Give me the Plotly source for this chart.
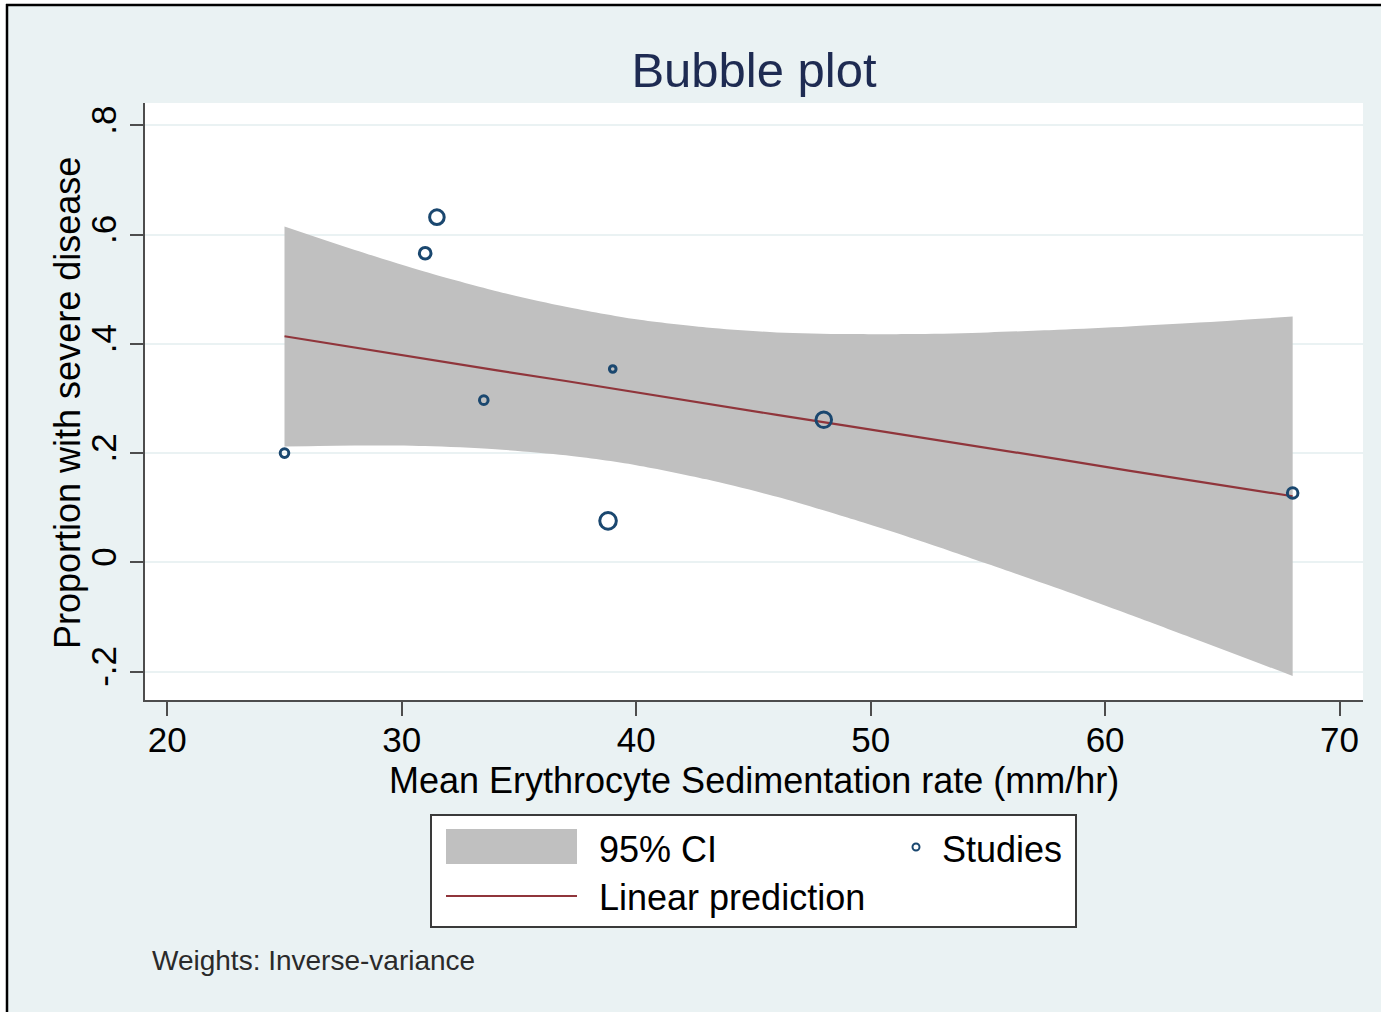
import plotly.graph_objects as go

# ---- study-level data: mean ESR vs proportion with severe disease ----
esr = [25.0, 31.0, 31.5, 33.5, 38.8, 39.0, 48.0, 68.0]
proportion = [0.200, 0.566, 0.632, 0.297, 0.076, 0.354, 0.261, 0.127]
# relative inverse-variance weights (bubble area)
weight = [7.4, 13.5, 21.3, 7.4, 27.6, 4.4, 24.3, 11.2]

# ---- meta-regression fit and its 95% confidence band ----
fit_x = [25, 28, 31, 34, 37, 40, 43, 46, 49, 52, 55, 58, 61, 64, 68]
fit_pred = [0.414, 0.393, 0.373, 0.352, 0.332, 0.311, 0.291, 0.270,
            0.250, 0.230, 0.209, 0.189, 0.168, 0.148, 0.121]
ci_upper = [0.615, 0.572, 0.532, 0.497, 0.468, 0.445, 0.430, 0.421,
            0.418, 0.418, 0.421, 0.426, 0.432, 0.439, 0.450]
ci_lower = [0.212, 0.214, 0.213, 0.207, 0.196, 0.178, 0.152, 0.120,
            0.082, 0.041, -0.003, -0.048, -0.095, -0.143, -0.208]

# ---- axis ticks ----
x_ticks = [20, 30, 40, 50, 60, 70]
y_ticks = [-0.2, 0.0, 0.2, 0.4, 0.6, 0.8]
y_ticktext = ["-.2", "0", ".2", ".4", ".6", ".8"]

# ---- text ----
title_text = "Bubble plot"
x_title = "Mean Erythrocyte Sedimentation rate (mm/hr)"
y_title = "Proportion with severe disease"
legend_labels = ["95% CI", "Linear prediction", "Studies"]
note_text = "Weights: Inverse-variance"

# ---- styling ----
FONT = "Liberation Sans, Arial, Helvetica, sans-serif"
BG = "#EAF2F3"
NAVY = "#1A476F"
MAROON = "#90353B"
BAND = "#C0C0C0"
AXIS = "#4D4D4D"

W, H = 1381, 1012
ML, MR, MT, MB = 145, 18, 103, 312
PW, PH = W - ML - MR, H - MT - MB


def px(xp):
    """pixel column -> paper x"""
    return (xp - ML) / PW


def py(yp):
    """pixel row -> paper y"""
    return (H - MB - yp) / PH


fig = go.Figure()

# confidence band: lower bound, then upper bound filled down to it
fig.add_trace(go.Scatter(
    x=fit_x, y=ci_lower, mode="lines",
    line=dict(width=0, shape="spline", smoothing=0.8),
    hoverinfo="skip", showlegend=False,
))
fig.add_trace(go.Scatter(
    x=fit_x, y=ci_upper, mode="lines", fill="tonexty", fillcolor=BAND,
    line=dict(width=0, shape="spline", smoothing=0.8),
    hoverinfo="skip", showlegend=False,
))

# linear prediction
fig.add_trace(go.Scatter(
    x=fit_x, y=fit_pred, mode="lines",
    line=dict(color=MAROON, width=2.2), showlegend=False,
))

# studies, sized by weight
fig.add_trace(go.Scatter(
    x=esr, y=proportion, mode="markers",
    marker=dict(symbol="circle-open", color=NAVY, opacity=1,
                size=[3.16 * w ** 0.5 for w in weight],
                line=dict(width=3, color=NAVY)),
    showlegend=False,
))

shapes = []
annotations = []

# outer frame: white margin strip and black rule on the top and left edges
shapes.append(dict(type="rect", xref="paper", yref="paper",
                   x0=px(0), x1=px(W), y0=py(4), y1=py(0),
                   fillcolor="white", line=dict(width=0), layer="above"))
shapes.append(dict(type="rect", xref="paper", yref="paper",
                   x0=px(0), x1=px(6), y0=py(H), y1=py(0),
                   fillcolor="white", line=dict(width=0), layer="above"))
shapes.append(dict(type="line", xref="paper", yref="paper",
                   x0=px(6), x1=px(W), y0=py(5), y1=py(5),
                   line=dict(color="black", width=2.5)))
shapes.append(dict(type="line", xref="paper", yref="paper",
                   x0=px(7), x1=px(7), y0=py(4), y1=py(H),
                   line=dict(color="black", width=2.5)))

# legend box
shapes.append(dict(type="rect", xref="paper", yref="paper",
                   x0=px(431), x1=px(1076), y0=py(927), y1=py(815),
                   fillcolor="white", line=dict(color="#3A3A3A", width=2)))
# band swatch
shapes.append(dict(type="rect", xref="paper", yref="paper",
                   x0=px(446), x1=px(577), y0=py(864), y1=py(829),
                   fillcolor=BAND, line=dict(width=0)))
# line swatch
shapes.append(dict(type="line", xref="paper", yref="paper",
                   x0=px(446), x1=px(577), y0=py(896), y1=py(896),
                   line=dict(color=MAROON, width=2.2)))
# marker swatch
shapes.append(dict(type="circle", xref="paper", yref="paper",
                   x0=px(912.5), x1=px(919.5), y0=py(850.5), y1=py(843.5),
                   line=dict(color=NAVY, width=2)))

legend_font = dict(family=FONT, size=36, color="black")
annotations.append(dict(text=legend_labels[0], xref="paper", yref="paper",
                        x=px(597), y=py(849), xanchor="left", yanchor="middle",
                        showarrow=False, font=legend_font))
annotations.append(dict(text=legend_labels[1], xref="paper", yref="paper",
                        x=px(597), y=py(897), xanchor="left", yanchor="middle",
                        showarrow=False, font=legend_font))
annotations.append(dict(text=legend_labels[2], xref="paper", yref="paper",
                        x=px(940), y=py(849), xanchor="left", yanchor="middle",
                        showarrow=False, font=legend_font))

# axis titles
axis_title_font = dict(family=FONT, size=36, color="black")
annotations.append(dict(text=x_title, xref="paper", yref="paper",
                        x=px(754), y=py(780), xanchor="center",
                        yanchor="middle", showarrow=False,
                        font=axis_title_font))
annotations.append(dict(text=y_title, xref="paper", yref="paper",
                        x=px(67), y=py(403), xanchor="center",
                        yanchor="middle", textangle=-90, showarrow=False,
                        font=axis_title_font))

# footnote
annotations.append(dict(text=note_text, xref="paper", yref="paper",
                        x=px(150), y=py(960), xanchor="left", yanchor="middle",
                        showarrow=False,
                        font=dict(family=FONT, size=28, color="#2A2A2A")))

fig.update_layout(
    width=W, height=H,
    margin=dict(l=ML, r=MR, t=MT, b=MB, pad=0),
    paper_bgcolor=BG, plot_bgcolor="white",
    font=dict(family=FONT, color="black"),
    title=dict(text=title_text, x=px(754), xref="paper", xanchor="center",
               y=1 - 70 / H, yref="container", yanchor="middle",
               font=dict(family=FONT, size=49, color="#1E2B52")),
    xaxis=dict(
        range=[19.05, 71.0], tickvals=x_ticks,
        ticktext=[str(v) for v in x_ticks],
        showgrid=False, zeroline=False,
        showline=True, linecolor=AXIS, linewidth=2,
        ticks="outside", ticklen=14, tickwidth=2, tickcolor=AXIS,
        tickfont=dict(family=FONT, size=35, color="black"),
        ticklabelstandoff=-6,
    ),
    yaxis=dict(
        range=[-0.252, 0.841], tickvals=y_ticks, ticktext=y_ticktext,
        tickangle=-90,
        showgrid=True, gridcolor=BG, gridwidth=2, zeroline=False,
        showline=True, linecolor=AXIS, linewidth=2,
        ticks="outside", ticklen=13, tickwidth=2, tickcolor=AXIS,
        tickfont=dict(family=FONT, size=35, color="black"),
        ticklabelstandoff=0,
    ),
    shapes=shapes,
    annotations=annotations,
    showlegend=False,
)

fig.write_html("out.html")
